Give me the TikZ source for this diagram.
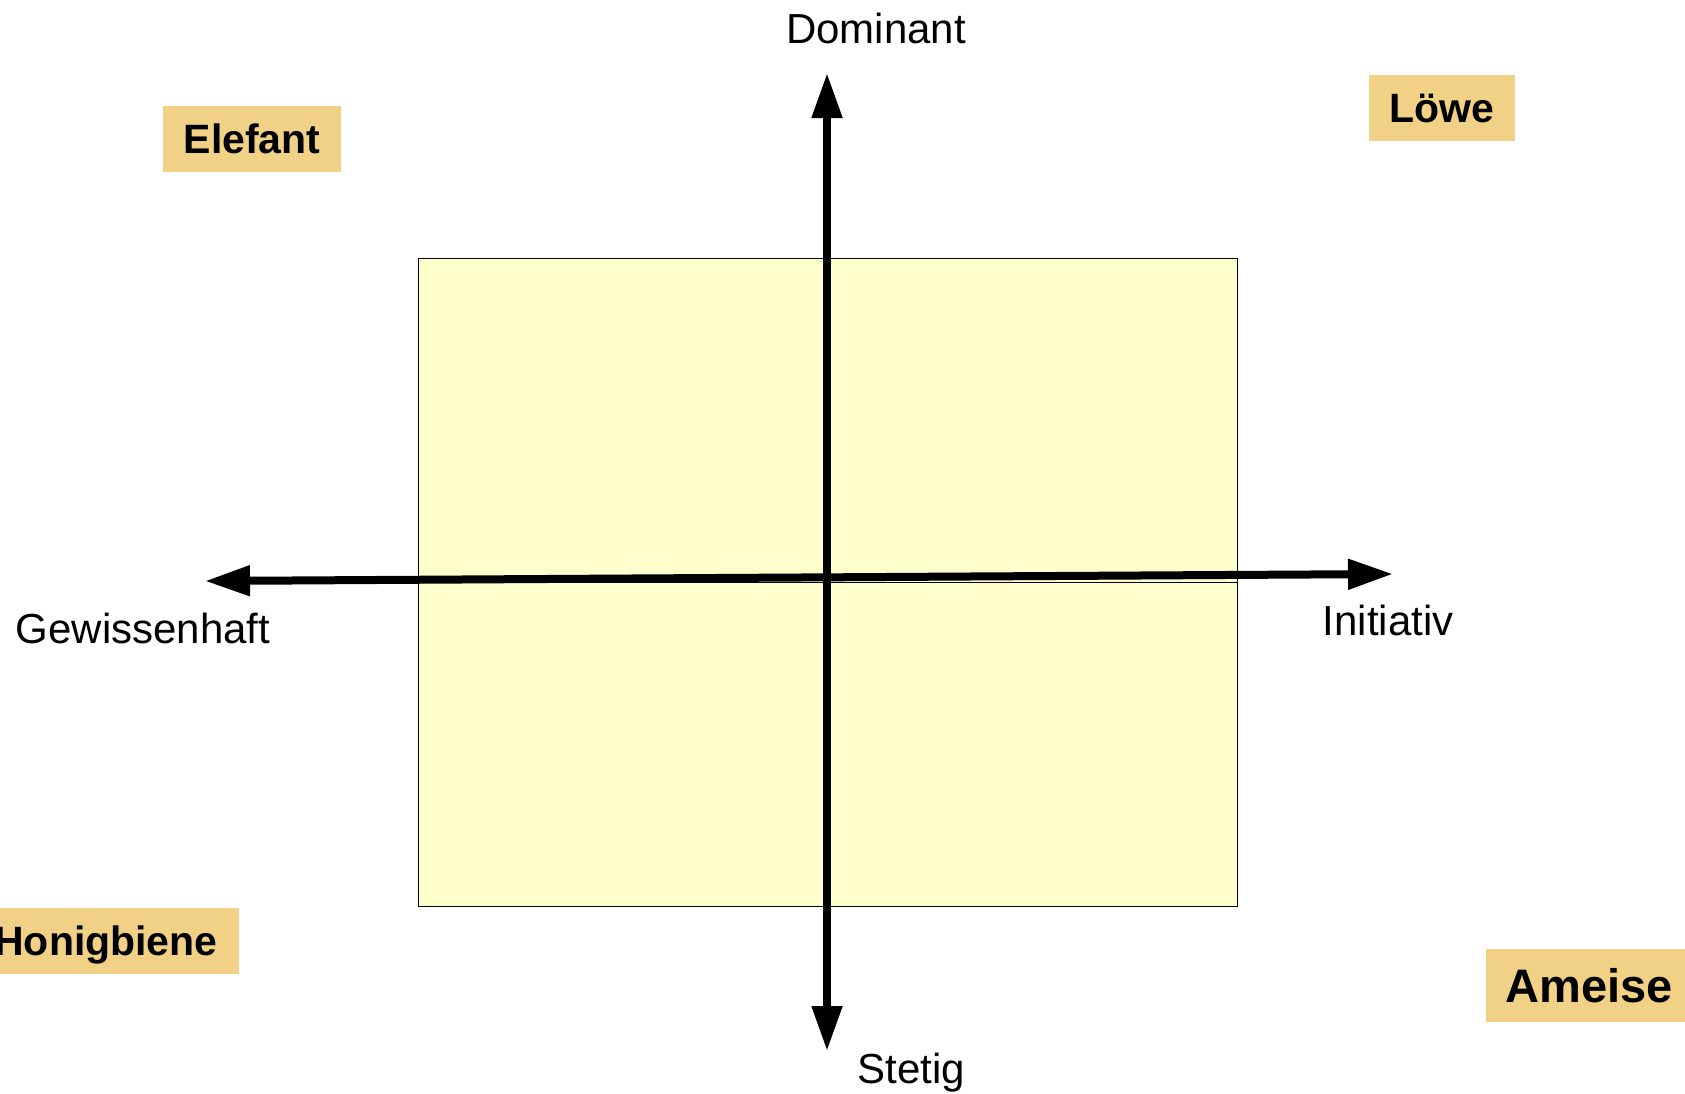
\documentclass[tikz,border=0pt]{standalone}
\usepackage{fontspec}
\setmainfont{Liberation Sans}
\usetikzlibrary{arrows.meta}
\definecolor{animalbg}{RGB}{240,209,133}
\definecolor{quadfill}{RGB}{254,253,204}

\begin{document}
\begin{tikzpicture}[x=0.5pt,y=-0.5pt,>={Triangle[length=22.5pt,width=14.5pt]}]
  \tikzstyle{animal}=[fill=animalbg,font=\bfseries\fontsize{20.5pt}{24pt}\selectfont,inner xsep=10.5pt,minimum height=33pt,text height=14.7pt,text depth=0pt]
  \tikzstyle{axislabel}=[anchor=base,inner sep=0pt,font=\fontsize{21pt}{25pt}\selectfont]
  \tikzstyle{quad}=[draw,fill=quadfill,line width=0.5pt]
  \tikzstyle{axis}=[<->,line width=4pt]
  \useasboundingbox (0,0) rectangle (1685,1093);
  % quadrant field
  \draw[quad] (418,258) rectangle (1237,582);
  \draw[quad] (418,582) rectangle (1237,906);
  % axes
  \coordinate (top) at (827,73);
  \coordinate (bottom) at (827,1051);
  \coordinate (left) at (205,581);
  \coordinate (right) at (1393,574);
  \draw[axis] (bottom) -- (top);
  \draw[axis] (left) -- (right);
  \node[axislabel] (dominant) at (876,43) {Dominant};
  \node[axislabel] (stetig) at (911.5,1083) {Stetig};
  \node[axislabel] (initiativ) at (1388,635) {Initiativ};
  \node[axislabel] (gewissenhaft) at (143,643) {Gewissenhaft};
  % animals
  \node[animal] (elefant) at (252,139) {Elefant};
  \node[animal] (loewe) at (1442,107.5) {Löwe};
  \node[animal,anchor=east] (biene) at (239,941) {Honigbiene};
  \node[animal,anchor=west,font=\bfseries\fontsize{23.5pt}{28pt}\selectfont,inner xsep=9.5pt,minimum height=36.5pt,text height=16.8pt] (ameise) at (1486,985.5) {Ameise};
\end{tikzpicture}
\end{document}
